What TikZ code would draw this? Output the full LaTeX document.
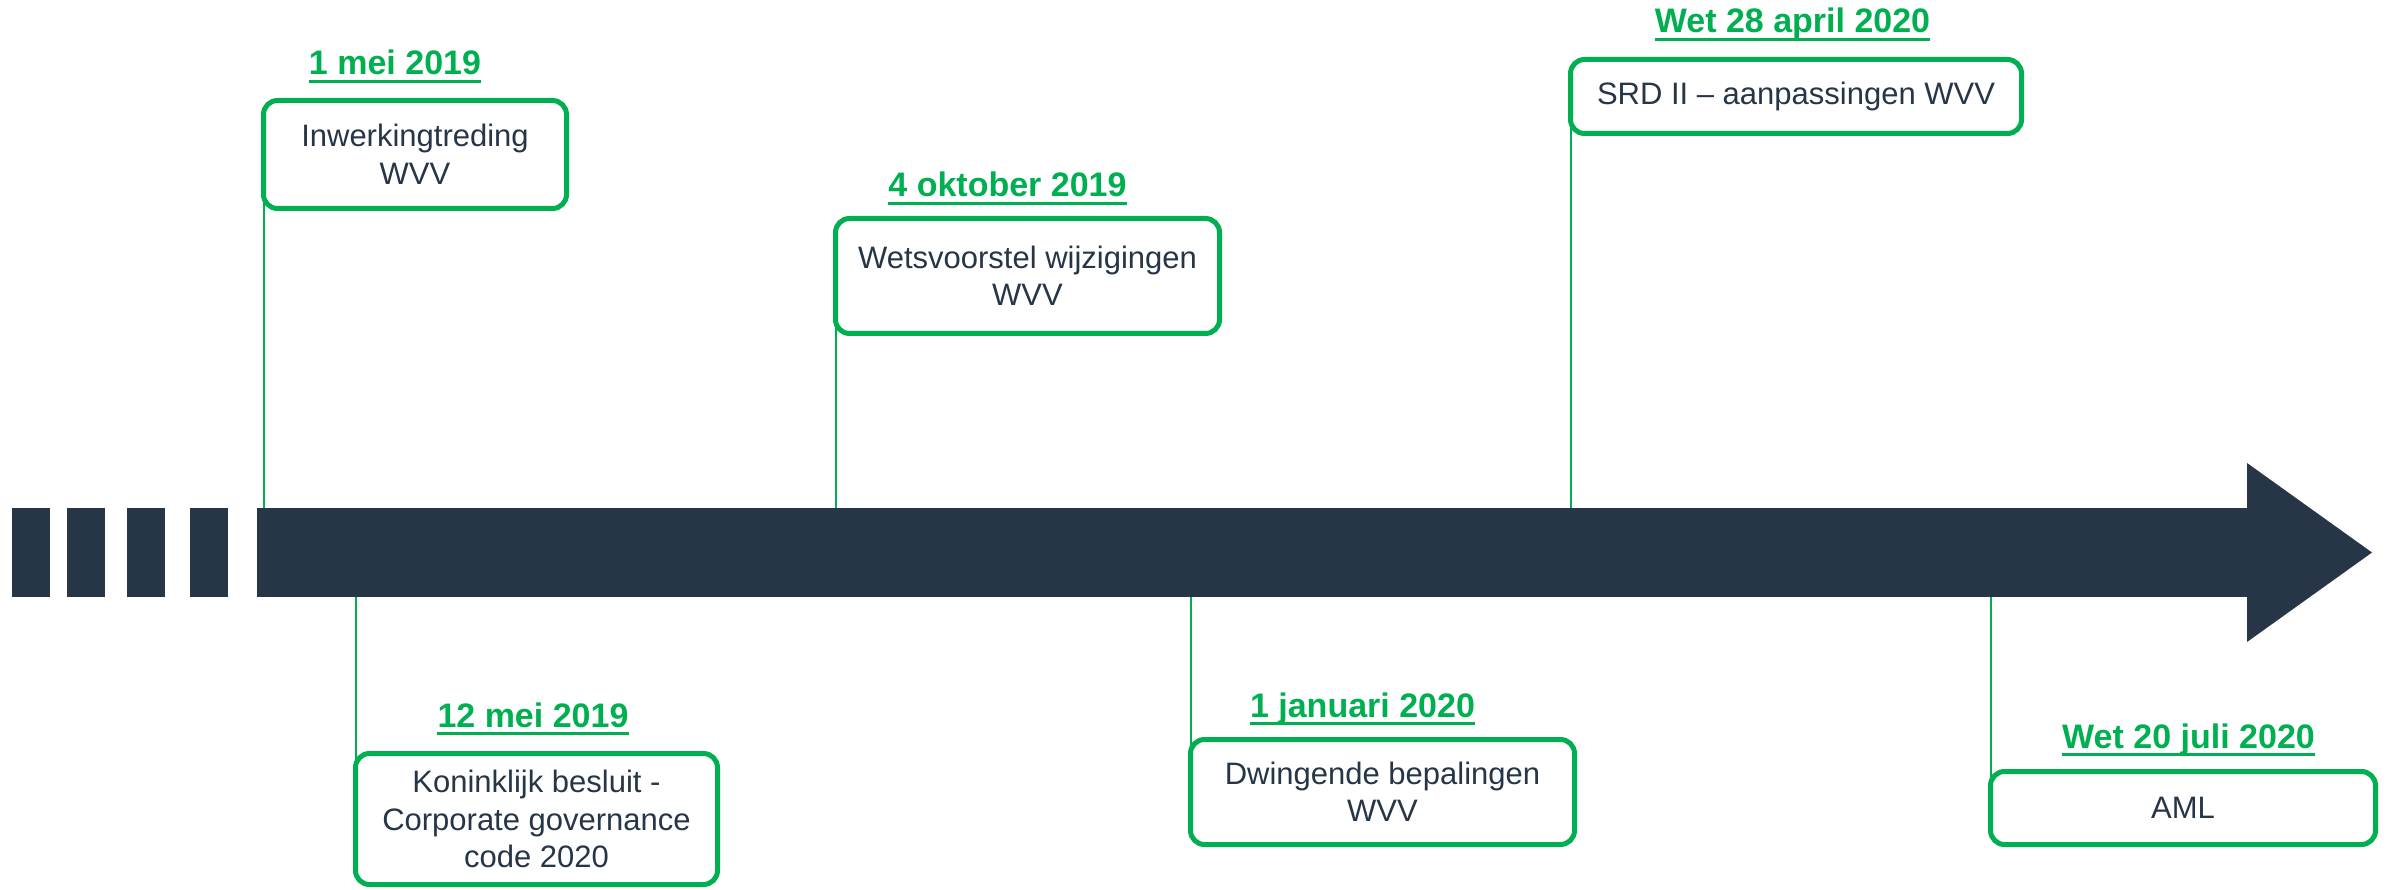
\documentclass[tikz,border=0pt]{standalone}
\usepackage{fontspec}
\setmainfont{Liberation Sans}
\definecolor{navy}{RGB}{38,54,71}
\definecolor{mygreen}{RGB}{0,176,80}

\tikzset{
    event/.style={draw=mygreen, line width=5pt, rounded corners=14pt, text=navy,
        align=center, inner sep=0pt, outer sep=0pt, font=\fontsize{31}{37.5}\selectfont},
    datum/.style={text=mygreen, anchor=base, inner sep=0pt,
        font=\fontsize{34}{40}\selectfont\bfseries},
    uline/.style={mygreen, line width=3pt},
    conn/.style={mygreen, line width=2pt},
    barpart/.style={fill=navy, inner sep=0pt, outer sep=0pt, minimum height=89pt, anchor=west}
}

\begin{document}
\begin{tikzpicture}[x=1pt, y=-1pt]
    \useasboundingbox (0,0) rectangle (2389,890);

    % Timeline arrow
    \foreach \x [count=\i] in {11.5, 67, 127, 190}
        \node[barpart, minimum width=38pt] (dash\i) at (\x, 552.5) {};
    \node[barpart, minimum width=1990pt] (bar) at (257, 552.5) {};
    \fill[navy] (bar.east) ++(0,-89.5) -- ++(125,89.5) -- ++(-125,89.5) -- cycle;

    % Events above the timeline
    \node[datum] (d1) at (395, 75) {1 mei 2019};
    \node[event, minimum width=303pt, minimum height=108pt] (inwerking) at (415, 154.5)
        {Inwerkingtreding\\WVV};
    \node[datum] (d2) at (1007.5, 197) {4 oktober 2019};
    \node[event, minimum width=384pt, minimum height=115pt] (wetsvoorstel) at (1027.5, 276)
        {Wetsvoorstel wijzigingen\\WVV};
    \node[datum] (d3) at (1792.5, 33) {Wet 28 april 2020};
    \node[event, minimum width=451pt, minimum height=74pt] (srd) at (1796, 96.5)
        {SRD II -- aanpassingen WVV};

    % Events below the timeline
    \node[datum] (d4) at (533, 727) {12 mei 2019};
    \node[event, minimum width=362pt, minimum height=131pt] (besluit) at (536.5, 819)
        {Koninklijk besluit -\\Corporate governance\\code 2020};
    \node[datum] (d5) at (1362.5, 717) {1 januari 2020};
    \node[event, minimum width=384pt, minimum height=105pt] (dwingend) at (1382.5, 792)
        {Dwingende bepalingen\\WVV};
    \node[datum] (d6) at (2188.5, 748) {Wet 20 juli 2020};
    \node[event, minimum width=385pt, minimum height=73pt] (aml) at (2183, 808) {AML};

    % underlined dates
    \foreach \d in {d1, d2, d3, d4, d5, d6}
        \draw[uline] ([yshift=-6.5pt]\d.base west) -- ([yshift=-6.5pt]\d.base east);

    % connectors to the timeline
    \foreach \b in {inwerking, wetsvoorstel, srd}
        \draw[conn] (\b.west) -- (\b.west |- bar.north);
    \foreach \b in {besluit, dwingend, aml}
        \draw[conn] (bar.south -| \b.west) -- (\b.west);
\end{tikzpicture}
\end{document}
